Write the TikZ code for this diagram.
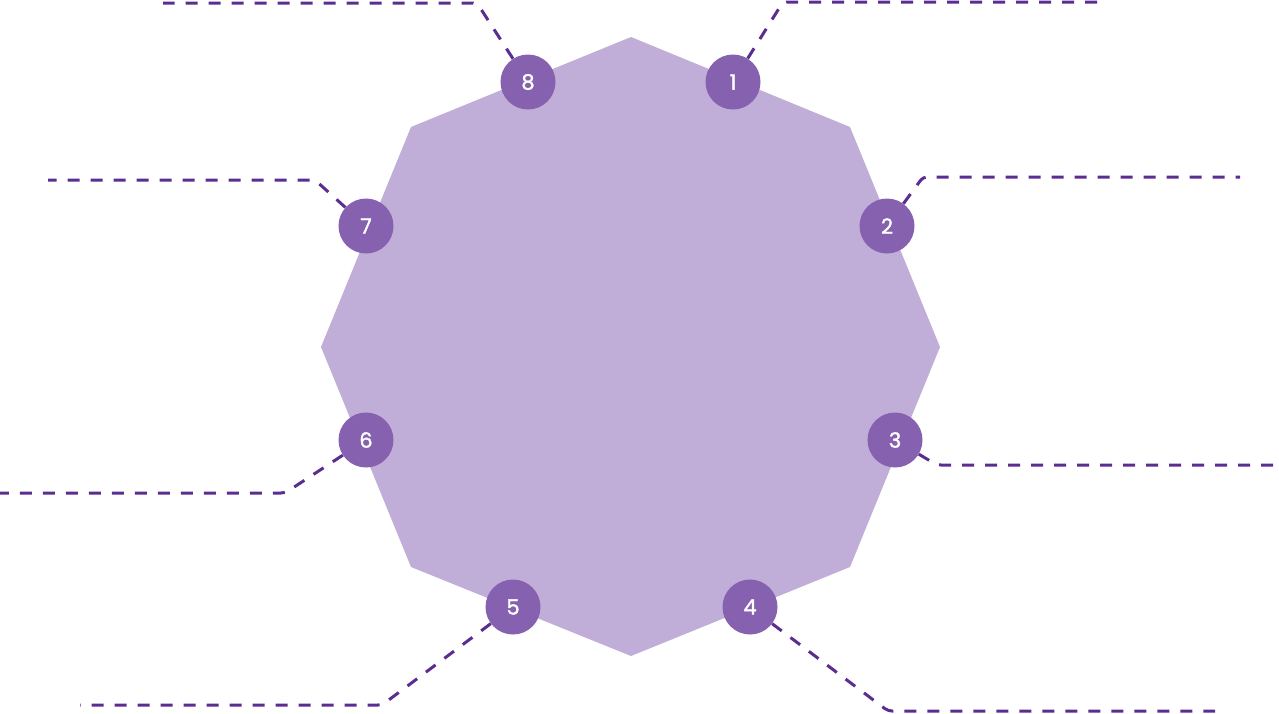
\documentclass[tikz,border=0pt]{standalone}
\usepackage{fontspec}
\setmainfont{Poppins}
\newfontfamily\dotfont{Poppins}[FakeBold=1.5]
\definecolor{octfill}{HTML}{C0AED8}
\definecolor{dotfill}{HTML}{8561B0}
\definecolor{linecol}{HTML}{5B2D91}
\begin{document}
\begin{tikzpicture}[x=1pt,y=-1pt,
  dot/.style={circle,fill=dotfill,minimum size=55pt,inner sep=0pt,text=white,font=\dotfont\fontsize{21}{21}\selectfont},
  lead/.style={draw=linecol,line width=3pt,dash pattern=on 12pt off 11pt,rounded corners=4pt}]
\useasboundingbox (0,0) rectangle (1279,713);
\fill[octfill] (631,37) -- (850,127) -- (940,347) -- (850,567) -- (631,656) -- (411,567) -- (321,347) -- (411,127) -- cycle;
\node[dot] (c1) at (733,82) {1};
\node[dot] (c2) at (887,226) {2};
\node[dot] (c3) at (895,440) {3};
\node[dot] (c4) at (750,607) {4};
\node[dot] (c5) at (513,607) {5};
\node[dot] (c6) at (366,440) {6};
\node[dot] (c7) at (366,226) {7};
\node[dot] (c8) at (528,82) {8};
\coordinate (k1) at (783,2);   \coordinate (e1) at (1100,2);
\coordinate (k2) at (923,177); \coordinate (e2) at (1240,177);
\coordinate (k3) at (937,465); \coordinate (e3) at (1279,465);
\coordinate (k4) at (888,711); \coordinate (e4) at (1215,711);
\coordinate (k5) at (382,705); \coordinate (e5) at (80,705);
\coordinate (k6) at (285,493); \coordinate (e6) at (0,493);
\coordinate (k7) at (315,180); \coordinate (e7) at (48,180);
\coordinate (k8) at (477,3);   \coordinate (e8) at (163,3);
\foreach \i in {1,...,8}{
  \draw[lead] (c\i) -- (k\i) -- (e\i);
}
\end{tikzpicture}
\end{document}
